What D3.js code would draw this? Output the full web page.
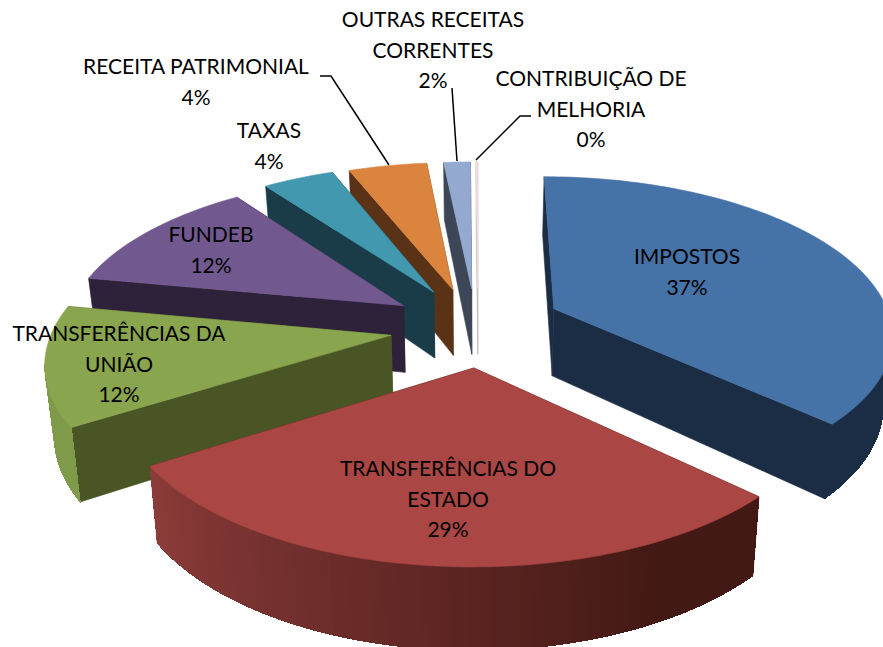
<!DOCTYPE html>
<html>
<head>
<meta charset="utf-8">
<style>
    html, body { margin: 0; padding: 0; background: #fff; overflow: hidden; }
    text { font-family: Lato, "Open Sans", sans-serif; font-size: 21px; fill: #000; text-anchor: middle; }
</style>
<script src="https://cdn.jsdelivr.net/npm/d3@7/dist/d3.min.js"></script>
</head>
<body>
<script>
(function(){

    //chart data
    var categories = ["IMPOSTOS", "TRANSFERÊNCIAS DO ESTADO", "TRANSFERÊNCIAS DA UNIÃO", "FUNDEB", "TAXAS", "RECEITA PATRIMONIAL", "OUTRAS RECEITAS CORRENTES", "CONTRIBUIÇÃO DE MELHORIA"];
    var values = [37, 29, 12, 12, 4, 4.4, 1.5, 0.1];
    var percentLabels = ["37%", "29%", "12%", "12%", "4%", "4%", "2%", "0%"];
    var labelLines = [
        ["IMPOSTOS"],
        ["TRANSFERÊNCIAS DO", "ESTADO"],
        ["TRANSFERÊNCIAS DA", "UNIÃO"],
        ["FUNDEB"],
        ["TAXAS"],
        ["RECEITA PATRIMONIAL"],
        ["OUTRAS RECEITAS", "CORRENTES"],
        ["CONTRIBUIÇÃO DE", "MELHORIA"]
    ];

    //colors
    var topColors = ["#4572a7", "#aa4643", "#89a54e", "#71588f", "#4198af", "#db843d", "#93a9cf", "#f4dcdc"];
    var sideColors = ["#1b2d45", "#451a17", "#4a5526", "#2d2239", "#1a3c48", "#5a3317", "#3c4657", "#c4bcbc"];
    var arcLeftColors = ["#1b2d45", "#8c3c3a", "#7f9b49", "#2d2239", "#1a3c48", "#5a3317", "#3c4657", "#c4bcbc"];
    var arcRightColors = ["#1b2d45", "#431915", "#7f9b49", "#2d2239", "#1a3c48", "#5a3317", "#3c4657", "#c4bcbc"];

    //layout
    var width = 883,
        height = 647,
        centerX = 475,
        centerY = 326,
        scaleX = 338,
        scaleY = 156,
        perspective = 0.149,
        explode = 0.248,
        depth = 68,
        bottomShrink = 0.978;
    var sliceShift = [[3, -2], [7, 2], [-1, 2], [-2, 0], [-2, -1], [-3, 0], [1, 0], [3, 0]];
    var labelCenters = [[687, 257], [448, 469], [119, 334], [211, 235], [269, 131], [196, 67], [433, 20], [591, 79]];
    var lineHeight = 30.4;
    var leaders = [
        [[320, 76], [331, 76], [389, 165]],
        [[452, 88], [457, 161]],
        [[531, 116], [520, 116], [476, 160]]
    ];
    var drawOrder = [7, 6, 5, 4, 3, 0, 2, 1];

    var svg = d3.select("body")
        .append("svg")
        .attr("width", width)
        .attr("height", height);

    var pie = d3.pie().sort(null);
    var arcs = pie(values);

    var line = d3.line();

    //project a ground plane point to the screen, lower = true gives the bottom of the wall
    function project(p, lower){
        var s = 1 / (1 + perspective * p[1]);
        var x = centerX + scaleX * p[0] * s,
            y = centerY - scaleY * p[1] * s;
        if (lower){
            x = centerX + (x - centerX) * bottomShrink;
            y = y + depth * s;
        }
        return [x, y];
    }

    function unit(angle){
        return [Math.sin(angle), Math.cos(angle)];
    }

    function drawFace(group, points, color, crisp){
        group.append("path")
            .attr("d", line(points) + "Z")
            .attr("fill", color)
            .attr("stroke", color)
            .attr("stroke-width", crisp ? 1 : 0.6)
            .attr("shape-rendering", crisp ? "crispEdges" : "auto");
    }

    drawOrder.forEach(function(i){
        var a = arcs[i];
        var mid = unit((a.startAngle + a.endAngle) / 2);
        var apex = [explode * mid[0], explode * mid[1]];
        var g = svg.append("g")
            .attr("transform", "translate(" + sliceShift[i][0] + "," + sliceShift[i][1] + ")");

        function rim(angle){
            var u = unit(angle);
            return [apex[0] + u[0], apex[1] + u[1]];
        }

        //walls along the two straight edges
        [a.startAngle, a.endAngle].forEach(function(angle){
            var r = rim(angle);
            drawFace(g, [project(apex), project(r), project(r, true), project(apex, true)], sideColors[i]);
        });

        //curved outer wall, cut into strips so it can be shaded
        var steps = Math.max(2, Math.ceil((a.endAngle - a.startAngle) * 40));
        var angles = d3.range(steps + 1).map(function(k){
            return a.startAngle + (a.endAngle - a.startAngle) * k / steps;
        });
        var shade = d3.scaleLinear()
            .domain([Math.PI * 1.32, Math.PI * 0.85])
            .range([arcLeftColors[i], arcRightColors[i]])
            .clamp(true);

        for (var k = 0; k < steps; k++){
            var t0 = angles[k], t1 = angles[k + 1];
            var u = unit((t0 + t1) / 2);
            var p = rim((t0 + t1) / 2);
            //only strips that face the viewer
            var facing = u[0] * (0 - p[0]) + u[1] * (-1 / perspective - p[1]);
            if (facing > 0){
                drawFace(g, [project(rim(t0)), project(rim(t1)), project(rim(t1), true), project(rim(t0), true)], shade((t0 + t1) / 2), true);
            }
        }

        //top face
        var top = [project(apex)].concat(angles.map(function(t){
            return project(rim(t));
        }));
        drawFace(g, top, topColors[i]);
    });

    //leader lines
    svg.selectAll(".leader")
        .data(leaders)
        .enter()
        .append("path")
        .attr("class", "leader")
        .attr("d", line)
        .attr("fill", "none")
        .attr("stroke", "#000")
        .attr("stroke-width", 1.5);

    //labels, one text per line
    categories.forEach(function(name, i){
        var rows = labelLines[i].concat([percentLabels[i]]);
        svg.selectAll(".label" + i)
            .data(rows)
            .enter()
            .append("text")
            .attr("class", "label" + i)
            .attr("x", labelCenters[i][0])
            .attr("y", function(d, r){
                return labelCenters[i][1] + r * lineHeight;
            })
            .attr("dy", "0.35em")
            .text(function(d){ return d; });
    });
})();
</script>
</body>
</html>
